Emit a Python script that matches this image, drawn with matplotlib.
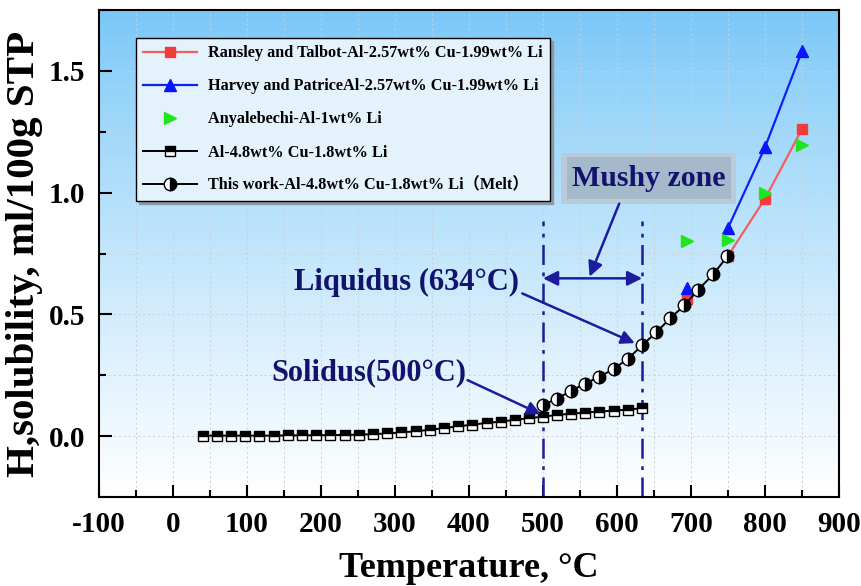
import numpy as np
import matplotlib
matplotlib.use("Agg")
import matplotlib.pyplot as plt
from matplotlib.patches import Rectangle, FancyArrowPatch
from matplotlib.ticker import MultipleLocator

plt.rcParams['font.family'] = ['Liberation Serif', 'Noto Sans CJK SC', 'DejaVu Serif']
plt.rcParams['font.weight'] = 'bold'
plt.rcParams['axes.unicode_minus'] = False

# ---------------- data ----------------
alloy_T = [40, 59, 78, 97, 116, 136, 155, 174, 193, 212, 232, 251, 270, 289, 308, 328,
           347, 366, 385, 404, 424, 443, 462, 481, 500, 519, 538, 557, 576, 596, 615, 634]
alloy_H = [0.002, 0.002, 0.002, 0.002, 0.002, 0.002, 0.003, 0.003, 0.004, 0.004, 0.005, 0.006,
           0.008, 0.011, 0.015, 0.020, 0.026, 0.033, 0.040, 0.047, 0.054, 0.060, 0.067, 0.074,
           0.080, 0.087, 0.092, 0.097, 0.101, 0.105, 0.109, 0.115]

melt_T = [500, 519, 538, 557, 576, 596, 615, 634, 653, 672, 691, 710, 730, 749]
melt_H = [0.127, 0.154, 0.186, 0.216, 0.243, 0.277, 0.318, 0.373, 0.426, 0.484, 0.537,
          0.602, 0.664, 0.738]

ransley_T = [694, 750, 800, 850]
ransley_H = [0.564, 0.740, 0.975, 1.261]
harvey_T = [694, 750, 800, 850]
harvey_H = [0.607, 0.855, 1.186, 1.582]
anyal_T = [694, 750, 800, 850]
anyal_H = [0.800, 0.807, 1.000, 1.197]

solidus_T = 500
liquidus_T = 634

labels = ["Ransley and Talbot-Al-2.57wt% Cu-1.99wt% Li",
          "Harvey and PatriceAl-2.57wt% Cu-1.99wt% Li",
          "Anyalebechi-Al-1wt% Li",
          "Al-4.8wt% Cu-1.8wt% Li",
          "This work-Al-4.8wt% Cu-1.8wt% Li\uff08Melt\uff09"]

# ---------------- figure ----------------
fig = plt.figure(figsize=(8.62, 5.86), dpi=100)
ax = fig.add_axes([99 / 862, 1 - 497 / 586, 740 / 862, 487 / 586])
ax.set_xlim(-100, 900)
ax.set_ylim(-0.25, 1.75)

# gradient background
n = 256
t = np.linspace(0, 1, n)[:, None]
top = np.array([120, 199, 248]) / 255.0
grad = top[None, None, :] + (1 - top[None, None, :]) * (t[:, :, None] ** 0.85)
grad = np.repeat(grad, 2, axis=1)
ax.imshow(grad, extent=[0, 1, 0, 1], transform=ax.transAxes, aspect='auto',
          origin='upper', zorder=0)

ax.xaxis.set_major_locator(MultipleLocator(100))
ax.xaxis.set_minor_locator(MultipleLocator(50))
ax.yaxis.set_major_locator(MultipleLocator(0.5))
ax.yaxis.set_minor_locator(MultipleLocator(0.25))
ax.grid(which='both', color='#c8d0d8', linestyle=(0, (2, 3)), linewidth=0.7, zorder=0.5)
ax.set_axisbelow(True)

ax.tick_params(which='both', direction='in', width=1.5)
ax.tick_params(which='major', length=9, labelsize=21, pad=10)
ax.tick_params(which='minor', length=5)
for lab in ax.get_xticklabels() + ax.get_yticklabels():
    lab.set_fontweight('bold')
for s in ax.spines.values():
    s.set_linewidth(1.5)

ax.set_xlabel("Temperature, \u00b0C", fontsize=26, fontweight='bold', labelpad=10)
ax.set_ylabel("H,solubility, ml/100g STP", fontsize=29.5, fontweight='bold', labelpad=4)

# ---------------- series ----------------
red_line = '#f06060'
red_mk = '#f23c3c'
ax.plot(ransley_T[1:], ransley_H[1:], '-', color=red_line, lw=1.6, marker='s', ms=7,
        mfc=red_mk, mec=red_mk, label=labels[0], zorder=3)
ax.plot(ransley_T[:1], ransley_H[:1], 's', ms=7, mfc=red_mk, mec=red_mk, zorder=3)

ax.plot(harvey_T[1:], harvey_H[1:], '-', color='#1020f0', lw=1.6, marker='^', ms=9,
        mfc='#0a14ff', mec='#0a14ff', label=labels[1], zorder=3)
ax.plot(harvey_T[:1], harvey_H[:1], '^', ms=9, mfc='#0a14ff', mec='#0a14ff', zorder=3)

ax.plot(anyal_T, anyal_H, '>', ls='none', ms=9, mfc='#1ee61e', mec='#1ee61e',
        label=labels[2], zorder=4)

ax.plot(alloy_T, alloy_H, '-', color='black', lw=1.4, marker='s', ms=7, fillstyle='top',
        mfc='black', mfcalt='white', mec='black', mew=1.0, label=labels[3], zorder=5)

ax.plot(melt_T, melt_H, '-', color='black', lw=1.4, marker='o', ms=9, fillstyle='right',
        mfc='black', mfcalt='white', mec='black', mew=1.0, label=labels[4], zorder=6)

# ---------------- annotations ----------------
navy = '#13136e'
line_navy = '#1c1ca0'
for xv in (solidus_T, liquidus_T):
    ax.plot([xv, xv], [-0.25, 0.885], color=line_navy, lw=1.8,
            ls=(0, (8, 3, 1.5, 3)), zorder=2)

arr = FancyArrowPatch((solidus_T, 0.648), (liquidus_T, 0.648), arrowstyle='<|-|>',
                      mutation_scale=22, color=line_navy, lw=1.8, zorder=7,
                      shrinkA=0, shrinkB=0)
ax.add_patch(arr)

# Mushy zone box
ax.add_patch(Rectangle((525, 0.955), 236, 0.209, facecolor='#b9cbd8', edgecolor='none', zorder=7))
ax.add_patch(Rectangle((532, 0.972), 222, 0.175, facecolor='#a4bacb', edgecolor='none', zorder=7))
ax.text(643, 1.058, "Mushy zone", fontsize=21.5, fontweight='bold', color=navy,
        ha='center', va='center', zorder=8)
ax.add_patch(FancyArrowPatch((603, 0.955), (563, 0.655), arrowstyle='-|>', mutation_scale=22,
                             color=line_navy, lw=1.8, zorder=7, shrinkA=0, shrinkB=0))

ax.text(164, 0.631, "Liquidus (634\u00b0C)", fontsize=22, fontweight='bold', color=navy,
        ha='left', va='center', zorder=8)
ax.add_patch(FancyArrowPatch((472, 0.586), (624, 0.382), arrowstyle='-|>', mutation_scale=20,
                             color=line_navy, lw=1.8, zorder=7, shrinkA=0, shrinkB=0))

ax.text(133, 0.262, "Solidus(500\u00b0C)", fontsize=22, fontweight='bold', color=navy,
        ha='left', va='center', zorder=8)
ax.add_patch(FancyArrowPatch((398, 0.23), (497, 0.09), arrowstyle='-|>', mutation_scale=20,
                             color=line_navy, lw=1.8, zorder=7, shrinkA=0, shrinkB=0))

# ---------------- legend ----------------
leg = ax.legend(loc='upper left', bbox_to_anchor=(0.05, 0.9425), borderaxespad=0,
                fontsize=11.7, frameon=True, fancybox=False, edgecolor='black',
                facecolor='#e4f2fc', framealpha=1, handlelength=3.3, handletextpad=0.7,
                labelspacing=1.05, borderpad=0.45,
                shadow={'color': '#8c9aa6', 'alpha': 1.0})
leg.get_frame().set_linewidth(1.0)
for txt in leg.get_texts():
    txt.set_fontweight('bold')
leg.set_zorder(10)

fig.savefig("out.png", dpi=100)
